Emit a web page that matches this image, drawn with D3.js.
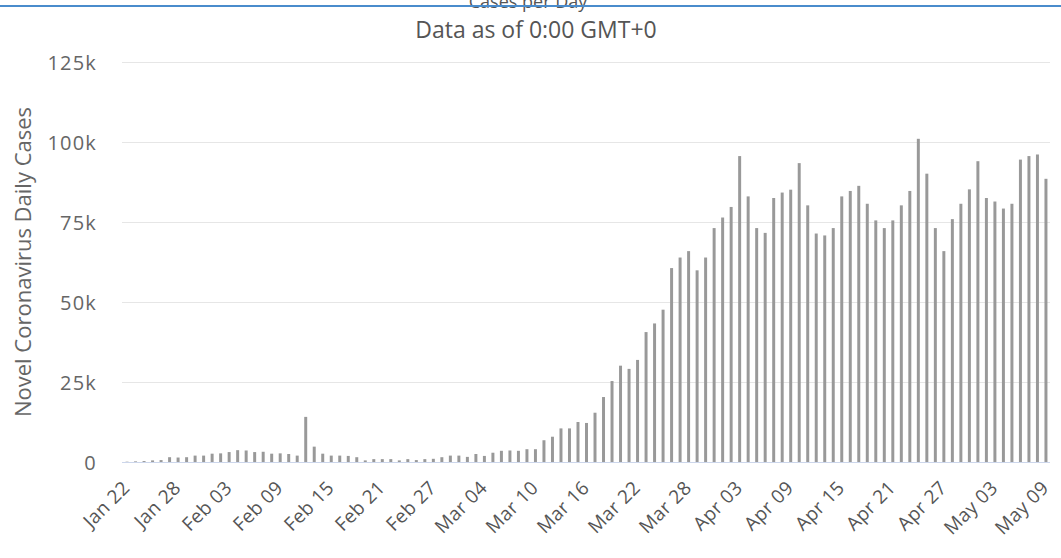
<!DOCTYPE html>
<html>
<head>
<meta charset="utf-8">
<script src="https://cdn.jsdelivr.net/npm/d3@7"></script>
<style>
  body { margin: 0; background: #fff; }
  svg text { font-family: "Open Sans", sans-serif; }
</style>
</head>
<body>
<script>
var categories = [
    "Jan 22","Jan 23","Jan 24","Jan 25","Jan 26","Jan 27","Jan 28","Jan 29","Jan 30","Jan 31",
    "Feb 01","Feb 02","Feb 03","Feb 04","Feb 05","Feb 06","Feb 07","Feb 08","Feb 09","Feb 10",
    "Feb 11","Feb 12","Feb 13","Feb 14","Feb 15","Feb 16","Feb 17","Feb 18","Feb 19","Feb 20",
    "Feb 21","Feb 22","Feb 23","Feb 24","Feb 25","Feb 26","Feb 27","Feb 28","Feb 29",
    "Mar 01","Mar 02","Mar 03","Mar 04","Mar 05","Mar 06","Mar 07","Mar 08","Mar 09","Mar 10",
    "Mar 11","Mar 12","Mar 13","Mar 14","Mar 15","Mar 16","Mar 17","Mar 18","Mar 19","Mar 20",
    "Mar 21","Mar 22","Mar 23","Mar 24","Mar 25","Mar 26","Mar 27","Mar 28","Mar 29","Mar 30","Mar 31",
    "Apr 01","Apr 02","Apr 03","Apr 04","Apr 05","Apr 06","Apr 07","Apr 08","Apr 09","Apr 10",
    "Apr 11","Apr 12","Apr 13","Apr 14","Apr 15","Apr 16","Apr 17","Apr 18","Apr 19","Apr 20",
    "Apr 21","Apr 22","Apr 23","Apr 24","Apr 25","Apr 26","Apr 27","Apr 28","Apr 29","Apr 30",
    "May 01","May 02","May 03","May 04","May 05","May 06","May 07","May 08","May 09"
];

// daily new cases
var dailyCases = [
    100, 200, 300, 500, 600, 1500, 1400, 1500, 2000, 2000,
    2600, 2700, 3100, 3700, 3600, 3100, 3200, 2600, 2700, 2500,
    2000, 14100, 4800, 2600, 2000, 2000, 1900, 1500, 500, 900,
    900, 900, 500, 900, 600, 900, 1000, 1500, 2000,
    2000, 1600, 2500, 1900, 2900, 3500, 3600, 3500, 4000, 4000,
    6800, 7900, 10500, 10500, 12500, 12200, 15400, 20300, 25300, 30100,
    29100, 31900, 40600, 43300, 47600, 60600, 63900, 65900, 59900, 63900, 73100,
    76400, 79700, 95600, 83000, 73100, 71600, 82500, 84200, 85100, 93400,
    80200, 71400, 70800, 73100, 83000, 84700, 86300, 80700, 75500, 73100,
    75500, 80200, 84700, 101000, 90100, 73100, 65900, 75900, 80700, 85200,
    94000, 82500, 81400, 79200, 80700, 94500, 95600, 96100, 88500
];

var tickLabels = ["Jan 22","Jan 28","Feb 03","Feb 09","Feb 15","Feb 21","Feb 27","Mar 04","Mar 10",
    "Mar 16","Mar 22","Mar 28","Apr 03","Apr 09","Apr 15","Apr 21","Apr 27","May 03","May 09"];

var yTicks = [0, 25000, 50000, 75000, 100000, 125000];

var width = 1061, height = 558;
var margin = { top: 62, right: 11, bottom: 96, left: 123 };

var svg = d3.select('body')
    .append('svg')
    .attr('width', width)
    .attr('height', height);

var x = d3.scaleBand()
    .domain(categories)
    .range([margin.left, width - margin.right])
    .paddingInner(0.65)
    .paddingOuter(0.3);

var y = d3.scaleLinear()
    .domain([0, 125000])
    .range([height - margin.bottom, margin.top]);

// title, mostly cut off at the top edge like the original screenshot
svg.append('text')
    .attr('x', 528)
    .attr('y', 8)
    .attr('text-anchor', 'middle')
    .style('font-size', '18px')
    .style('fill', '#555')
    .text('Cases per Day');

svg.append('line')
    .attr('x1', 0).attr('x2', width)
    .attr('y1', 6).attr('y2', 6)
    .style('stroke', '#4a8ccc')
    .style('stroke-width', 2);

svg.append('text')
    .attr('x', 536)
    .attr('y', 38)
    .attr('text-anchor', 'middle')
    .style('font-size', '23px')
    .style('fill', '#555')
    .text('Data as of 0:00 GMT+0');

// grid
svg.append('g')
    .selectAll('line')
    .data(yTicks.slice(1))
    .enter()
    .append('line')
    .attr('x1', margin.left - 1)
    .attr('x2', width - margin.right)
    .attr('y1', function (d) { return Math.round(y(d)) + 0.5; })
    .attr('y2', function (d) { return Math.round(y(d)) + 0.5; })
    .style('stroke', '#e6e6e6');

// y axis labels
var yAxis = d3.axisLeft(y)
    .tickValues(yTicks)
    .tickSize(0)
    .tickPadding(0)
    .tickFormat(function (d) { return d === 0 ? '0' : (d / 1000) + 'k'; });

var gy = svg.append('g')
    .attr('transform', 'translate(97,0)')
    .call(yAxis);
gy.select('.domain').remove();
gy.selectAll('text')
    .attr('dy', '0.36em')
    .style('font-size', '20px')
    .style('letter-spacing', '1.2px')
    .style('fill', '#666')
    .style('font-family', '"Open Sans", sans-serif');

svg.append('text')
    .attr('transform', 'translate(31,' + ((margin.top + height - margin.bottom) / 2) + ') rotate(-90)')
    .attr('text-anchor', 'middle')
    .style('font-size', '22px')
    .style('fill', '#666')
    .text('Novel Coronavirus Daily Cases');

// bars
svg.append('g')
    .selectAll('rect')
    .data(dailyCases)
    .enter()
    .append('rect')
    .attr('x', function (d, i) { return x(categories[i]); })
    .attr('width', x.bandwidth())
    .attr('y', function (d) { return y(d); })
    .attr('height', function (d) { return y(0) - y(d); })
    .style('fill', '#999');

// x axis
var xAxis = d3.axisBottom(x)
    .tickValues(tickLabels)
    .tickSize(0)
    .tickPadding(0);

var gx = svg.append('g')
    .attr('transform', 'translate(0,' + (height - margin.bottom) + ')')
    .call(xAxis);
gx.select('.domain')
    .attr('d', 'M' + (margin.left - 1) + ',0.5H' + (width - margin.right))
    .style('stroke', '#ccd6eb');
gx.selectAll('text')
    .attr('text-anchor', 'end')
    .attr('dy', null)
    .attr('y', 0)
    .attr('transform', 'translate(4,27) rotate(-45)')
    .style('font-size', '19px')
    .style('letter-spacing', '0.4px')
    .style('fill', '#555')
    .style('font-family', '"Open Sans", sans-serif');
</script>
</body>
</html>
